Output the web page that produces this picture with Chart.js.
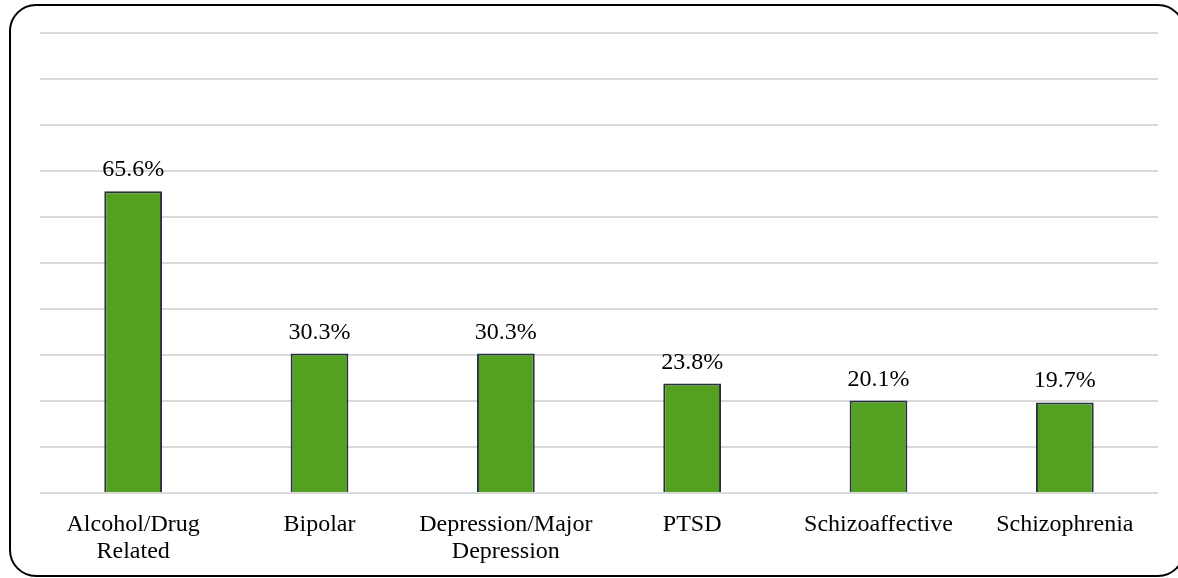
<!DOCTYPE html>
<html>
<head>
<meta charset="utf-8">
<script src="https://cdn.jsdelivr.net/npm/chart.js@4/dist/chart.umd.min.js"></script>
<style>
  html, body { margin: 0; padding: 0; background: #ffffff; }
  #wrap { width: 1178px; height: 578px; position: relative; }
</style>
</head>
<body>
<div id="wrap"><canvas id="c" width="1178" height="578"></canvas></div>
<script>
// Diagnosis categories (multi-line labels as arrays)
const categories = [
  ["Alcohol/Drug", "Related"],
  "Bipolar",
  ["Depression/Major", "Depression"],
  "PTSD",
  "Schizoaffective",
  "Schizophrenia"
];
// Share of people with each diagnosis, in percent
const percentValues = [65.6, 30.3, 30.3, 23.8, 20.1, 19.7];

const SERIF = '"Liberation Serif", "Times New Roman", serif';

// Rounded frame around the whole chart
const framePlugin = {
  id: 'frame',
  beforeDraw(chart) {
    const ctx = chart.ctx;
    const x = 10, y = 5, w = 1174, h = 571, r = 26;
    ctx.save();
    ctx.fillStyle = '#ffffff';
    ctx.fillRect(0, 0, chart.width, chart.height);
    ctx.beginPath();
    ctx.moveTo(x + r, y);
    ctx.lineTo(x + w - r, y);
    ctx.arcTo(x + w, y, x + w, y + r, r);
    ctx.lineTo(x + w, y + h - r);
    ctx.arcTo(x + w, y + h, x + w - r, y + h, r);
    ctx.lineTo(x + r, y + h);
    ctx.arcTo(x, y + h, x, y + h - r, r);
    ctx.lineTo(x, y + r);
    ctx.arcTo(x, y, x + r, y, r);
    ctx.closePath();
    ctx.lineWidth = 2;
    ctx.strokeStyle = '#000000';
    ctx.stroke();
    ctx.restore();
  }
};

// Value labels above each bar
const valueLabels = {
  id: 'valueLabels',
  afterDatasetsDraw(chart) {
    const ctx = chart.ctx;
    const meta = chart.getDatasetMeta(0);
    ctx.save();
    ctx.font = '24px ' + SERIF;
    ctx.fillStyle = '#000000';
    ctx.textAlign = 'center';
    ctx.textBaseline = 'alphabetic';
    meta.data.forEach((bar, i) => {
      const v = chart.data.datasets[0].data[i];
      ctx.fillText(v.toFixed(1) + '%', bar.x, bar.y - 15);
    });
    ctx.restore();
  }
};

new Chart(document.getElementById('c'), {
  type: 'bar',
  data: {
    labels: categories,
    datasets: [{
      data: percentValues,
      backgroundColor: '#54a021',
      borderColor: '#263040',
      borderWidth: 2,
      borderSkipped: 'bottom',
      categoryPercentage: 1.0,
      barPercentage: 0.31
    }]
  },
  options: {
    responsive: false,
    animation: false,
    layout: { padding: { top: 33, left: 40, right: 20, bottom: 0 } },
    plugins: {
      legend: { display: false },
      tooltip: { enabled: false }
    },
    scales: {
      x: {
        grid: { display: false, drawTicks: false },
        border: { display: false },
        ticks: {
          color: '#000000',
          font: { family: SERIF, size: 24, lineHeight: 1.12 },
          padding: 18,
          maxRotation: 0,
          autoSkip: false
        },
        afterFit(scale) { scale.height = 85; }
      },
      y: {
        min: 0,
        max: 100,
        ticks: { display: false, stepSize: 10 },
        grid: { color: '#d9d9d9', lineWidth: 2, drawTicks: false },
        border: { display: false },
        afterFit(scale) { scale.width = 0; }
      }
    }
  },
  plugins: [framePlugin, valueLabels]
});
</script>
</body>
</html>
